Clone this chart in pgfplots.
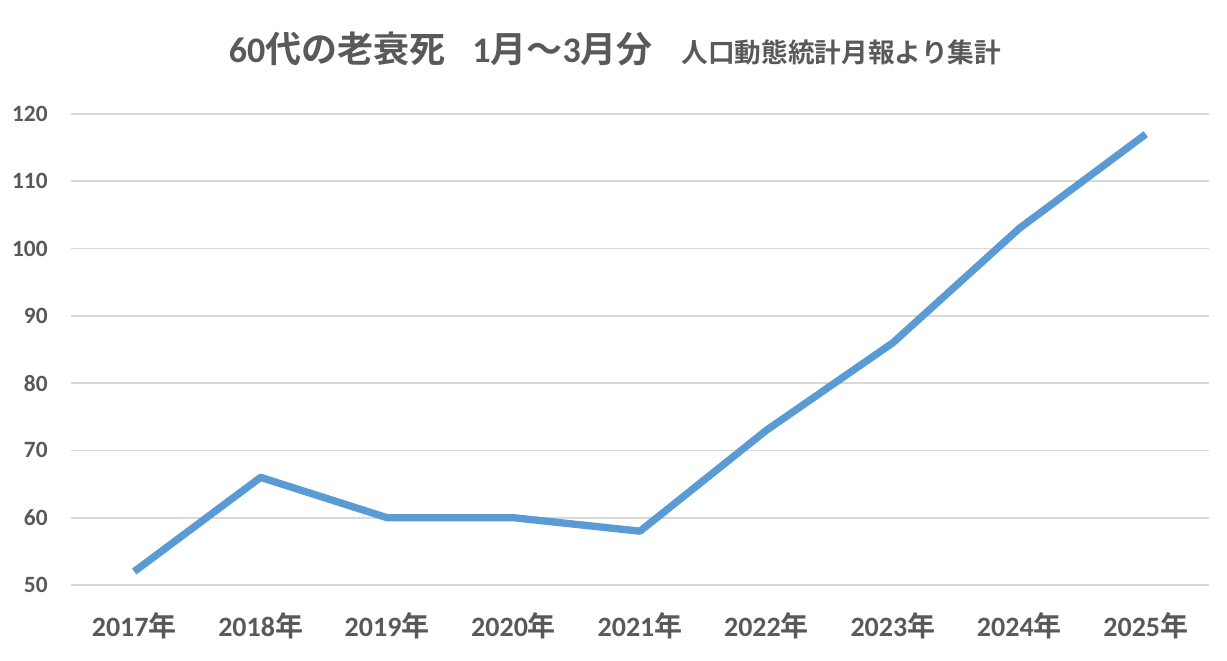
\documentclass[border=0pt]{standalone}
\usepackage{fontspec}
\setmainfont{Carlito}
\newfontfamily\cjk{Noto Sans CJK JP}[BoldFont={Noto Sans CJK JP Bold}]
\usepackage{pgfplots}
\pgfplotsset{compat=1.18}
\definecolor{linec}{HTML}{5B9BD5}
\definecolor{gridc}{HTML}{D9D9D9}
\definecolor{textc}{HTML}{595959}
\begin{document}
\begin{tikzpicture}
\useasboundingbox (-53.25pt,-56.25pt) rectangle (867pt,438.75pt);
\begin{axis}[
  at={(0,0)}, anchor=south west,
  scale only axis,
  width=853.5pt, height=353.25pt,
  xmin=-0.5, xmax=8.5,
  ymin=50, ymax=120,
  ytick={50,60,...,120},
  xtick={0,...,8},
  xticklabels={2017{\cjk 年},2018{\cjk 年},2019{\cjk 年},2020{\cjk 年},2021{\cjk 年},2022{\cjk 年},2023{\cjk 年},2024{\cjk 年},2025{\cjk 年}},
  axis line style={draw=none},
  ymajorgrids,
  grid style={gridc, line width=1.2pt},
  major tick length=0pt,
  xticklabel style={font=\fontsize{21}{24}\selectfont\bfseries, text=textc, yshift=-17pt},
  yticklabel style={font=\fontsize{17.5}{20}\selectfont\bfseries, text=textc, xshift=-14pt},
  /pgf/number format/assume math mode=true,
  clip=false,
]
\addplot[linec, line width=5.5pt, line join=round] coordinates {
(0,52) (1,66) (2,60) (3,60) (4,58) (5,73) (6,86) (7,103) (8,117)
};
\end{axis}
\node[text=textc, anchor=base] at (408pt,392pt) {\fontsize{27}{30}\selectfont\bfseries 60{\cjk 代の老衰死}\hspace{0.75em}1{\cjk 月～}3{\cjk 月分}\hspace{0.8em}{\fontsize{20}{22}\selectfont\cjk 人口動態統計月報より集計}};
\end{tikzpicture}
\end{document}
